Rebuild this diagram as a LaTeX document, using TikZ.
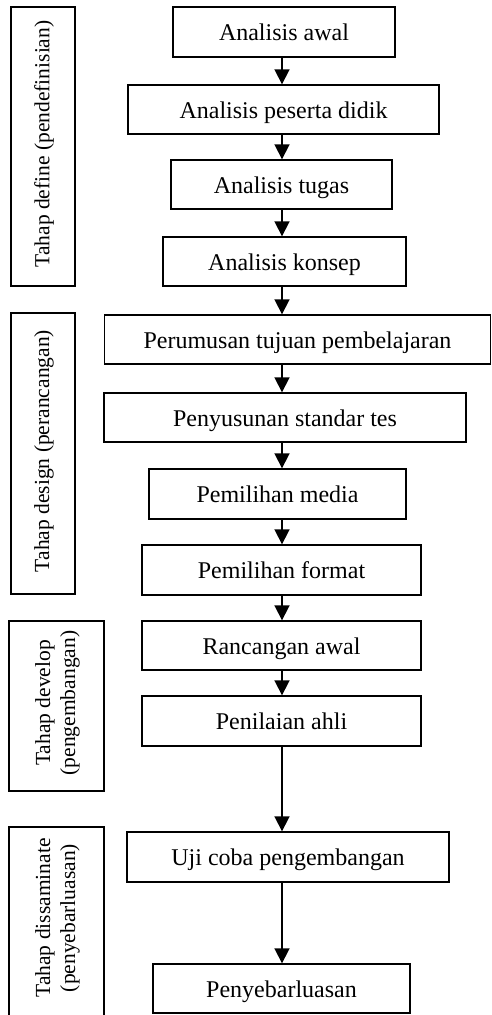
\documentclass[tikz,border=0pt]{standalone}
\usepackage{fontspec}
\setmainfont{Liberation Serif}
\usetikzlibrary{arrows.meta}
\tikzset{
  stepbox/.style={draw, line width=1.4pt, inner sep=0pt, text height=18pt, text depth=1pt, font=\fontsize{24}{28}\selectfont},
  stagebox/.style={draw, line width=1.4pt, inner sep=0pt},
  stagetext/.style={rotate=90, align=center, inner sep=0pt, font=\fontsize{21.5}{25}\selectfont},
  flow/.style={line width=1.8pt, -{Triangle[length=15pt,width=15pt]}}
}
\begin{document}
\begin{tikzpicture}[x=1pt,y=-1pt]
\clip (0,0) rectangle (492,1015);
\fill[white] (0,0) rectangle (492,1015);
\coordinate (ax) at (282,0);
% step boxes
\node[stepbox, minimum width=222pt, minimum height=50pt] (b1) at (284,32) {Analisis awal};
\node[stepbox, minimum width=311pt, minimum height=49pt] (b2) at (283.5,109.5) {Analisis peserta didik};
\node[stepbox, minimum width=221pt, minimum height=49pt] (b3) at (281.5,184.5) {Analisis tugas};
\node[stepbox, minimum width=243pt, minimum height=49pt] (b4) at (284.5,261.5) {Analisis konsep};
\node[stepbox, minimum width=386pt, minimum height=49pt] (b5) at (297.5,339.5) {Perumusan tujuan pembelajaran};
\node[stepbox, minimum width=362pt, minimum height=49pt] (b6) at (285,417.5) {Penyusunan standar tes};
\node[stepbox, minimum width=257pt, minimum height=50pt] (b7) at (277.5,494) {Pemilihan media};
\node[stepbox, minimum width=279pt, minimum height=50pt] (b8) at (281.5,570) {Pemilihan format};
\node[stepbox, minimum width=279pt, minimum height=49pt] (b9) at (281.5,645.5) {Rancangan awal};
\node[stepbox, minimum width=279pt, minimum height=50pt] (b10) at (281.5,721) {Penilaian ahli};
\node[stepbox, minimum width=322pt, minimum height=50pt] (b11) at (288,857) {Uji coba pengembangan};
\node[stepbox, minimum width=257pt, minimum height=49pt] (b12) at (281.5,988.5) {Penyebarluasan};
% arrows
\foreach \a/\b in {b1/b2,b2/b3,b3/b4,b4/b5,b5/b6,b6/b7,b7/b8,b8/b9,b9/b10,b10/b11,b11/b12}
  \draw[flow] (\a.south -| ax) -- (\b.north -| ax);
% stage boxes
\node[stagebox, minimum width=64pt, minimum height=279pt] (s1) at (43,146.5) {};
\node[stagetext] (t1) at (44,144) {Tahap define (pendefinisian)};
\node[stagebox, minimum width=64pt, minimum height=281pt] (s2) at (43,453.5) {};
\node[stagetext] (t2) at (44,451) {Tahap design (perancangan)};
\node[stagebox, minimum width=95pt, minimum height=170pt] (s3) at (56.5,706) {};
\node[stagetext] (t3) at (57.5,703) {Tahap develop\\(pengembangan)};
\node[stagebox, minimum width=95pt, minimum height=200pt] (s4) at (56.5,927) {};
\node[stagetext] (t4) at (57.5,918) {Tahap dissaminate\\(penyebarluasan)};
\end{tikzpicture}
\end{document}
